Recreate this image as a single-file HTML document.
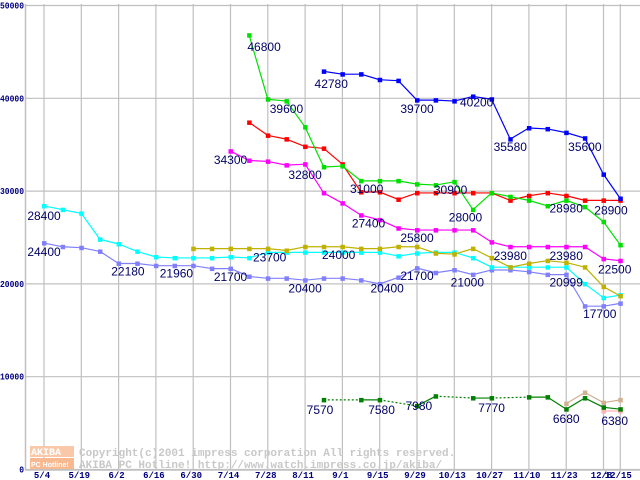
<!DOCTYPE html>
<html><head><meta charset="utf-8"><style>
body{margin:0;background:#fff;}
svg{display:block;font-family:"Liberation Sans",sans-serif;}
.lbl{fill:#000066;font-size:12px;}
.ax{fill:#000080;font-size:9px;font-weight:bold;font-family:"Liberation Mono",monospace;}
.wm{fill:#c8c8c8;font-size:11px;font-weight:bold;font-family:"Liberation Mono",monospace;}
</style></head><body>
<svg id="chart" width="640" height="480" viewBox="0 0 640 480" xmlns="http://www.w3.org/2000/svg">
<g id="grid"></g>
<g id="series"></g>
<g id="labels"></g>
<g id="axes"></g>
<g>
<rect x="30" y="446" width="44" height="11" fill="#f8c8a8"/>
<rect x="30" y="458" width="44" height="11" fill="#f8b890"/>
<text x="31" y="455" fill="#fff" font-size="10" font-weight="bold" font-family="Liberation Mono,monospace">AKIBA</text>
<text x="31" y="467" fill="#fff" font-size="7" font-weight="bold" font-family="Liberation Sans,sans-serif">PC Hotline!</text>
<text class="wm" x="79" y="456">Copyright(c)2001 impress corporation All rights reserved.</text>
<text class="wm" x="79" y="468">AKIBA PC Hotline!  http://www.watch.impress.co.jp/akiba/</text>
</g>
</svg>
<script>
const xTickLabels=["5/4","5/19","6/2","6/16","6/30","7/14","7/28","8/11","9/1","9/15","9/29","10/13","10/27","11/10","11/23","12/8","12/15"];
const xTickSlots=[0,2,4,6,8,10,12,14,16,18,20,22,24,26,28,30,30.9];
const yTicks=[0,10000,20000,30000,40000,50000];
const slots=[0,1,2,3,4,5,6,7,8,9,10,11,12,13,14,15,16,17,18,19,20,21,22,23,24,25,26,27,28,29,30,30.9];
const N=null;
const blueVals=[N,N,N,N,N,N,N,N,N,N,N,N,N,N,N,42900,42600,42600,42000,41900,39800,39800,39700,40200,39900,35600,36800,36700,36300,35700,31800,29200];
const greenVals=[N,N,N,N,N,N,N,N,N,N,N,46800,39900,39700,36900,32600,32700,31100,31100,31100,30750,30650,31000,28000,29800,29400,29000,28400,29000,28300,26700,24200];
const redVals=[N,N,N,N,N,N,N,N,N,N,N,37400,36000,35600,34800,34600,32900,29900,29900,29100,29800,29800,29800,29800,29800,29000,29500,29800,29500,29000,29000,29000];
const magentaVals=[N,N,N,N,N,N,N,N,N,N,34300,33300,33200,32800,32900,29800,28700,27400,26900,26000,25800,25800,25800,25800,24500,24000,24000,24000,24000,24000,22700,22500];
const oliveVals=[N,N,N,N,N,N,N,N,23800,23800,23800,23800,23800,23600,24000,24000,24000,23800,23800,24000,24000,23300,23200,23800,22800,21800,22200,22500,22300,21800,19700,18700];
const cyanVals=[28400,28000,27600,24800,24300,23500,22900,22800,22800,22800,22900,22800,23400,23400,23400,23400,23400,23400,23400,23000,23300,23400,23400,22800,21800,21800,21800,21800,21800,20000,18500,18800];
const purpleVals=[24400,24000,23900,23500,22200,22200,21960,21960,21960,21650,21650,20800,20600,20600,20400,20600,20600,20400,20000,20700,21700,21200,21500,21000,21500,21500,21300,21000,21000,17600,17600,17900];
const dgreenVals=[N,N,N,N,N,N,N,N,N,N,N,N,N,N,N,7500,N,7500,7500,N,6850,7900,N,7700,7700,N,7800,7800,6500,7700,6700,6500];
const tanVals=[N,N,N,N,N,N,N,N,N,N,N,N,N,N,N,N,N,N,N,N,N,N,N,N,N,N,N,N,7100,8300,7200,7500];
const pinkVals=[N,N,N,N,N,N,N,N,N,N,N,N,N,N,N,N,N,N,N,N,N,N,N,N,N,N,N,N,N,N,6300,6300];
const labelTexts=["46800","39600","42780","39700","40200","35580","35600","34300","32800","31000","30900","28000","28980","28900","27400","25800","28400","24400","22180","21960","21700","23700","24000","20400","20400","21700","21000","23980","23980","22500","20999","17700","7570","7580","7980","7770","6680","6380"];
const labelSlots=[11.8,13,15.4,20,23.2,25,29,10,14,17.3,21.8,22.6,28,30.4,17.4,20,0,0,4.5,7.1,10,12.1,15.8,14,18.4,20,22.7,25,28,30.6,28,29.8,14.8,18.1,20.1,24,28,30.6];
const labelVals=[45100,38400,41100,38400,39100,34300,34300,32900,31300,29800,29700,26700,27700,27500,26100,24500,26900,23000,20900,20700,20300,22400,22700,19100,19100,20400,19700,22600,22600,21100,19700,16300,6000,6000,6400,6200,5000,4800];

const SVGNS="http://www.w3.org/2000/svg";
function xS(s){return 44+18.65*s;}
function yS(v){return 469.5-v*0.00928;}
function mk(tag,attrs,parent){const e=document.createElementNS(SVGNS,tag);for(const k in attrs)e.setAttribute(k,attrs[k]);parent.appendChild(e);return e;}
const grid=document.getElementById('grid'),axes=document.getElementById('axes'),ser=document.getElementById('series'),lab=document.getElementById('labels');
yTicks.forEach((v,i)=>{
 const l=mk('line',{x1:25,x2:640,y1:yS(v),y2:yS(v),stroke:'#c0c0c0','stroke-width':1.2},grid);
 
 
 const s=String(v);
 const w=s.length*4.8;
 const t=mk('text',{x:24-w,y:yS(v)+3,textLength:w,lengthAdjust:'spacingAndGlyphs',class:'ax'},axes);
 t.textContent=s;
 
 
});
xTickSlots.forEach((s,i)=>{
 const l=mk('line',{x1:xS(s),x2:xS(s),y1:4,y2:470,stroke:'#c0c0c0','stroke-width':1.2},grid);
 
 
 const t=mk('text',{x:xS(s)-2,y:478,'text-anchor':'middle',class:'ax'},axes);
 t.textContent=xTickLabels[i];
 
 
});
const la=mk('line',{x1:25.5,x2:25.5,y1:4,y2:470,stroke:'#c0c0c0','stroke-width':1.5},grid);


const lb=mk('line',{x1:25,x2:640,y1:470,y2:470,stroke:'#c0c0c0','stroke-width':1.5},grid);



function drawSeries(vals,color,name){
 const g=mk('g',{},ser);
 
 
 let prev=-1;
 for(let i=0;i<vals.length;i++){
  if(vals[i]===null)continue;
  if(prev>=0){
   const dashed=(i-prev)>1;
   const a={x1:xS(slots[prev]),y1:yS(vals[prev]),x2:xS(slots[i]),y2:yS(vals[i]),stroke:color,'stroke-width':1.2};
   if(dashed)a['stroke-dasharray']='2,2';
   const l=mk('line',a,g);
   
   
  }
  const p=mk('rect',{x:xS(slots[i])-2,y:yS(vals[i])-2,width:4.5,height:4.5,fill:color},g);
  
  
  prev=i;
 }
}
drawSeries(purpleVals,'#8080ff','series-purple');
drawSeries(cyanVals,'#00ffff','series-cyan');
drawSeries(oliveVals,'#c0b000','series-olive');
drawSeries(magentaVals,'#ff00ff','series-magenta');
drawSeries(redVals,'#ff0000','series-red');
drawSeries(greenVals,'#00e000','series-green');
drawSeries(blueVals,'#0000ff','series-blue');
drawSeries(tanVals,'#d0b090','series-tan');
drawSeries(pinkVals,'#ffb0b0','series-pink');
drawSeries(dgreenVals,'#008000','series-darkgreen');
labelTexts.forEach((txt,i)=>{
 const t=mk('text',{x:xS(labelSlots[i]),y:yS(labelVals[i]),'text-anchor':'middle',class:'lbl'},lab);
 t.textContent=txt;
 
 
});
</script>
</body></html>
